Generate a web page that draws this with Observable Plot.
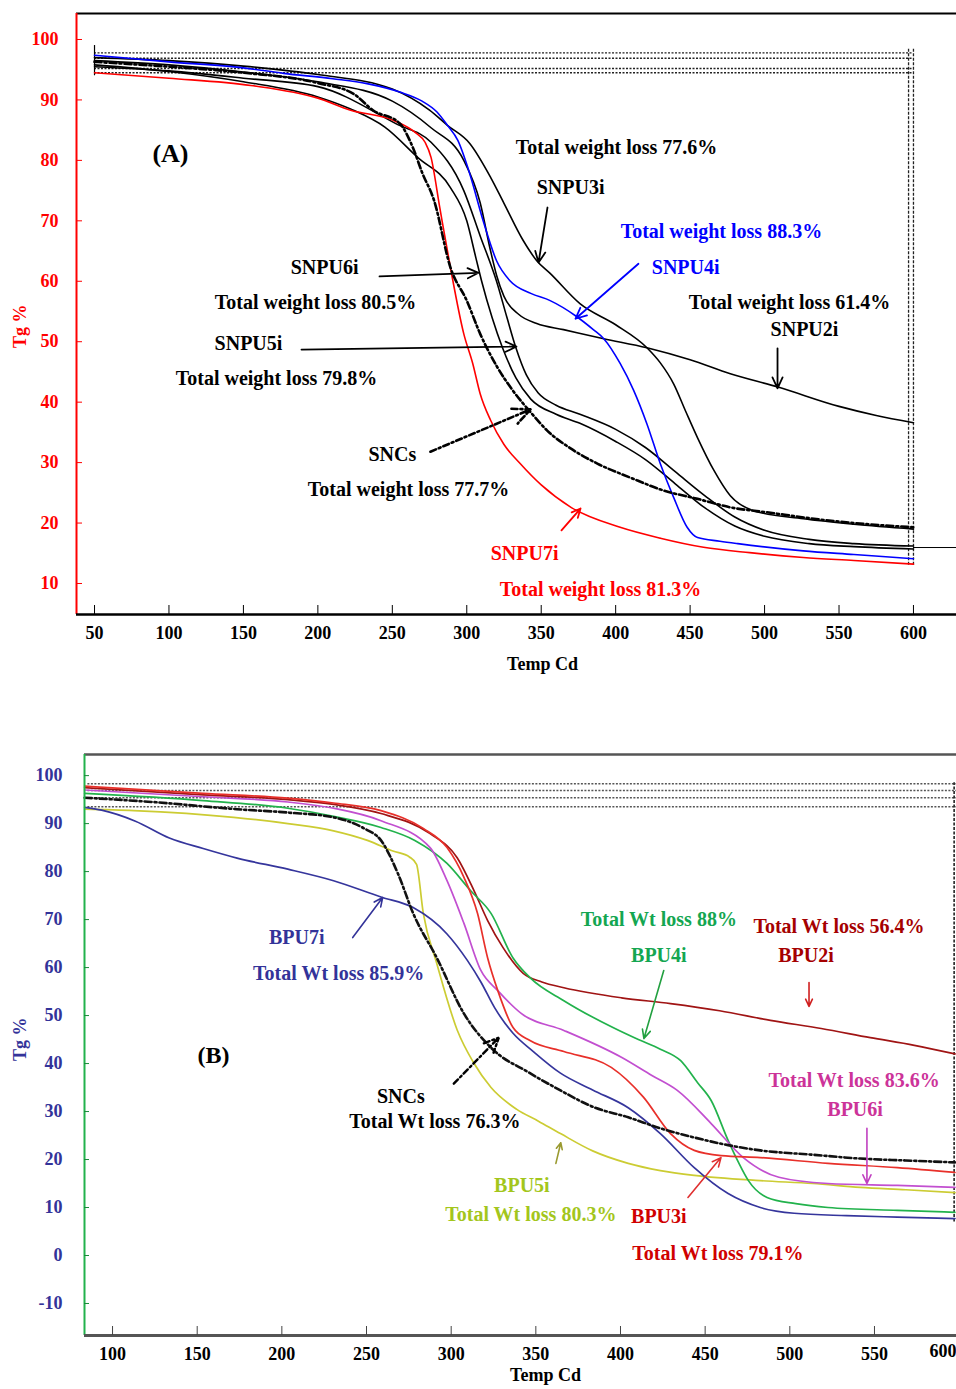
<!DOCTYPE html>
<html><head><meta charset="utf-8">
<script src="https://cdn.jsdelivr.net/npm/d3@7"></script>
<script src="https://cdn.jsdelivr.net/npm/@observablehq/plot@0.6"></script>
<style>
body{margin:0;background:#fff;}
#a,#b{display:block;line-height:0;}
svg{display:block;}
</style></head><body>
<div id="a"></div><div id="b"></div>
<script>
const serif = '"Liberation Serif", "Times New Roman", serif';

// ---------------- Panel (A) data: [temperature °C, weight %] ----------------
const xTicksA = [50,100,150,200,250,300,350,400,450,500,550,600];
const yTicksA = [10,20,30,40,50,60,70,80,90,100];
const SNPU7i = [[50,94.5],[100,93.6],[155,92.4],[200,90.3],[222,88.3],[251,86.6],[266,84.5],[272,83],[276,80.5],[282,72],[289,62.3],[298,51.3],[304,46.4],[309,41.4],[316,37],[325,33],[336,29.8],[350,26.3],[370,22.6],[403,19.3],[430,17.5],[459,16],[490,15.1],[526,14.3],[560,13.8],[600,13.2]];
const SNPU4i = [[50,97.4],[100,96.3],[150,95.3],[177,94.4],[210,93.5],[233,92.7],[255,91.3],[270,89.8],[280,88],[287,85.8],[294,83.3],[302,77.8],[311,70],[320,63.4],[329,60.1],[343,58],[356,56.8],[373,54.3],[385,52],[392,50.5],[403,46.4],[412,42],[421,36.4],[430,29.8],[439,24.2],[448,19.3],[455,17.6],[470,17],[482,16.6],[526,15.4],[560,14.8],[600,14.1]];
const SNPU3i = [[50,97],[100,96.5],[150,95.6],[200,94.2],[250,91.8],[275,88.3],[287,85.8],[302,82.8],[316,77.2],[325,72.9],[338,66.7],[347,63.4],[356,61.3],[376,56.3],[400,52.8],[421,49],[430,46.5],[439,43],[447,38.5],[455,34.1],[466,28.7],[477,24.5],[493,22],[526,20.7],[560,19.8],[600,19]];
const SNPU2i = [[50,96.5],[100,95.8],[150,94.6],[200,93],[250,89.8],[276,85.4],[298,80],[309,73],[316,65],[320,61],[325,57.5],[335,54.5],[347,53],[365,52],[392,50.5],[421,49],[450,47],[477,44.7],[509,42.5],[550,39.3],[575,37.8],[600,36.6]];
const SNPU6i = [[50,95.8],[100,94.7],[150,93],[200,90.5],[222,88.5],[245,85.5],[267,80.5],[289,75.5],[300,70],[306,64],[310,60],[317,54],[324,49],[333,44],[343,40.5],[360,38],[376,36.5],[400,33.5],[420,30.5],[440,26.5],[460,22.5],[480,19.5],[500,17.8],[530,16.6],[560,16.1],[600,15.7]];
const SNPU5i = [[50,95.5],[100,94.8],[150,93.6],[200,92.2],[253,86],[276,83],[298,75],[309,67.5],[320,60],[327,54],[333,49],[340,44.5],[348,41.5],[360,39.5],[376,38],[400,35.5],[420,32.5],[440,28.5],[460,24.5],[480,21],[500,18.8],[530,17.3],[560,16.6],[600,16.2]];
const SNCsA = [[50,96.3],[100,95.5],[150,94.5],[200,92.8],[224,91],[237,88.3],[255,86.1],[264,82],[270,78],[278,73.4],[289,62.3],[300,56.8],[309,51.3],[320,46],[331,41.9],[343,38.3],[354,35.3],[370,32.3],[388,29.8],[410,27.5],[432,25.4],[455,24],[477,22.6],[504,21.7],[530,20.8],[560,20],[600,19.3]];
const refLinesA = [97.8, 96.9, 95.2, 94.5];
const refVertA = [596.7, 600];

const annA = [
  {key:"A", label:"(A)", t:101, w:81.1},
  {key:"SNPU3i", label:"Total weight loss 77.6%", t:400.6, w:82.1},
  {key:"SNPU3i", label:"SNPU3i", t:369.7, w:75.5},
  {key:"SNPU4i", label:"Total weight loss 88.3%", t:471, w:68.2},
  {key:"SNPU4i", label:"SNPU4i", t:447, w:62.3},
  {key:"SNPU2i", label:"Total weight loss 61.4%", t:516.7, w:56.5},
  {key:"SNPU2i", label:"SNPU2i", t:526.8, w:52},
  {key:"SNPU6i", label:"SNPU6i", t:204.5, w:62.3},
  {key:"SNPU6i", label:"Total weight loss 80.5%", t:198.4, w:56.5},
  {key:"SNPU5i", label:"SNPU5i", t:153.4, w:49.7},
  {key:"SNPU5i", label:"Total weight loss 79.8%", t:172.2, w:43.9},
  {key:"SNCs", label:"SNCs", t:250, w:31.3},
  {key:"SNCs", label:"Total weight loss 77.7%", t:260.9, w:25.5},
  {key:"SNPU7i", label:"SNPU7i", t:338.8, w:15},
  {key:"SNPU7i", label:"Total weight loss 81.3%", t:389.8, w:9}
];
const arrowsA = [
  {key:"SNPU3i", t1:354.2, w1:72.2, t2:348.2, w2:63.1},
  {key:"SNPU4i", t1:415.3, w1:62.9, t2:373, w2:53.8},
  {key:"SNPU2i", t1:508.7, w1:48.9, t2:508.7, w2:42.3},
  {key:"SNPU6i", t1:241.4, w1:60.8, t2:307.9, w2:61.4},
  {key:"SNPU5i", t1:189, w1:48.7, t2:333.4, w2:49.2},
  {key:"SNPU7i", t1:363.6, w1:18.8, t2:376.4, w2:22.4}
];
const arrowsDashA = [{key:"SNCs", t1:275.6, w1:31.8, t2:342.8, w2:38.8}];

// ---------------- Panel (B) data ----------------
const xTicksB = [100,150,200,250,300,350,400,450,500,550];
const yTicksB = [-10,0,10,20,30,40,50,60,70,80,90,100];
const BPU7i = [[80,93.4],[90,92.8],[110,90.5],[130,87],[150,84.8],[170,82.8],[200,80.5],[227,78.1],[255,74.7],[274,72.5],[294,67],[306,61.5],[314,57],[322,51.7],[333,46.3],[345,42.5],[361,38],[380,34.5],[401,30.8],[420,25.4],[440,18.3],[460,12.9],[479,10],[499,8.8],[530,8.3],[560,8],[594,7.7]];
const BPU5i = [[80,93],[109,92.7],[168,91.3],[200,90],[227,88.5],[247,86.5],[262,84.3],[272,83],[276,81.5],[280,71.3],[288,60.8],[300,47],[310,40],[320,35],[335,30.5],[348,28],[361,25.4],[380,21.8],[401,19.2],[420,17.7],[440,16.7],[479,15.6],[510,15],[538,14.2],[565,13.7],[594,13.1]];
const SNCsB = [[80,95.4],[120,94.5],[170,93],[200,92.3],[227,91.3],[245,89],[255,86.5],[265,79.6],[274,71.3],[288,62],[304,50.4],[320,43.3],[343,38],[361,34.4],[380,31],[401,28.8],[420,26.5],[440,24.6],[460,23],[479,21.9],[510,21],[538,20.2],[565,19.8],[594,19.4]];
const BPU4i = [[80,96.3],[150,94.8],[200,93.2],[227,91.5],[255,89.2],[275,86.5],[294,81.7],[308,76],[320,71.3],[333,62],[343,57.9],[363,53.1],[392,47.5],[407,45],[420,43],[432,40.6],[442,36],[450,32.3],[460,24],[466,19.5],[472,15.6],[483,12.1],[500,10.8],[519,10],[560,9.4],[594,9]];
const BPU2i = [[80,97.5],[150,96],[200,95],[227,94],[255,92.1],[284,87.9],[300,82.9],[310,76],[318,69.8],[327,64.2],[339,58.8],[350,57],[363,55.8],[397,53.7],[426,52.5],[455,51],[485,49],[515,47.3],[544,45.4],[570,43.8],[594,42]];
const BPU3i = [[80,97.8],[150,96.3],[200,95.3],[227,94.3],[255,92.7],[280,89],[294,85],[304,78.8],[312,71.3],[318,62],[324,55.2],[333,47.5],[343,44.8],[363,42.5],[391,39.2],[410,33],[426,25.4],[440,21.9],[456,20.8],[479,20.4],[519,19.2],[560,18.3],[594,17.3]];
const BPU6i = [[80,97],[150,95.6],[200,94.5],[227,93.2],[255,90.6],[284,85],[294,78.1],[304,69.2],[314,59.4],[324,55.2],[338,50.4],[363,46.9],[397,41.3],[415,37.5],[430,34.4],[450,27.5],[469,20.4],[490,16.3],[519,15],[560,14.6],[594,14.2]];
const refLinesB = [98.3, 96.9, 95.4, 93.5];
const refVertB = [593.5];
const extraXLabelB = [{t:587, label:"600"}];

const annB = [
  {key:"B", label:"(B)", t:156.1, w:41.7},
  {key:"BPU7i", label:"BPU7i", t:205.2, w:66.25},
  {key:"BPU7i", label:"Total Wt loss 85.9%", t:230, w:58.75},
  {key:"BPU4i", label:"Total Wt loss 88%", t:419.1, w:70},
  {key:"BPU4i", label:"BPU4i", t:419.1, w:62.5},
  {key:"BPU2i", label:"Total Wt loss 56.4%", t:525.5, w:68.5},
  {key:"BPU2i", label:"BPU2i", t:506, w:62.5},
  {key:"SNCs", label:"SNCs", t:266.7, w:33.1},
  {key:"SNCs", label:"Total Wt loss 76.3%", t:286.8, w:27.9},
  {key:"BPU6i", label:"Total Wt loss 83.6%", t:534.4, w:36.5},
  {key:"BPU6i", label:"BPU6i", t:535, w:30.4},
  {key:"BPU5i", label:"BPU5i", t:338.2, w:14.6},
  {key:"BPU5i", label:"Total Wt loss 80.3%", t:343.5, w:8.5},
  {key:"BPU3i", label:"BPU3i", t:419.1, w:8.1},
  {key:"BPU3i", label:"Total Wt loss 79.1%", t:454, w:0.4}
];
const arrowsB = [
  {key:"BPU7i", t1:238.3, w1:66.25, t2:256, w2:74.6},
  {key:"BPU4i", t1:422, w1:59.4, t2:410.3, w2:45.2},
  {key:"BPU2i", t1:507.8, w1:56.9, t2:507.8, w2:51.9},
  {key:"BPU6i", t1:542, w1:26.5, t2:542, w2:15},
  {key:"BPU5i", t1:358.3, w1:19.2, t2:361.2, w2:23.5},
  {key:"BPU3i", t1:436.3, w1:12.1, t2:455.8, w2:20.4}
];
const arrowsDashB = [{key:"SNCs", t1:298, w1:35.8, t2:324.6, w2:45.4}];

// ---------------- styles ----------------
const lineColorA = {SNPU7i:"#ff0000", SNPU4i:"#0000ff", SNPU3i:"#000", SNPU2i:"#000", SNPU6i:"#000", SNPU5i:"#000", SNCs:"#000", A:"#000"};
const lineColorB = {BPU7i:"#35359c", BPU5i:"#cccc33", SNCs:"#111", BPU4i:"#22b24c", BPU2i:"#a01414", BPU3i:"#e8302a", BPU6i:"#c24fd0"};
const textColorB = {B:"#000", BPU7i:"#333399", BPU5i:"#a3c61c", BPU4i:"#14a651", BPU2i:"#a50000", BPU3i:"#d00000", BPU6i:"#cc3399", SNCs:"#000"};
const arrowColorB = {BPU7i:"#333399", BPU5i:"#9a9a30", BPU4i:"#22a040", BPU2i:"#d02020", BPU3i:"#e03030", BPU6i:"#c040c0", SNCs:"#000"};

const rowsOf = (name, pts) => pts.map(([t, w]) => ({name, t, w}));
const solidA = [["SNPU2i",SNPU2i],["SNPU3i",SNPU3i],["SNPU5i",SNPU5i],["SNPU6i",SNPU6i],["SNPU4i",SNPU4i],["SNPU7i",SNPU7i]].flatMap(([n,p]) => rowsOf(n,p));
const solidB = [["BPU2i",BPU2i],["BPU5i",BPU5i],["BPU7i",BPU7i],["BPU4i",BPU4i],["BPU6i",BPU6i],["BPU3i",BPU3i]].flatMap(([n,p]) => rowsOf(n,p));

const xDomA = [37.9, 628.9], yDomA = [4.87, 104.3];
const xDomB = [79.9, 594.9], yDomB = [-16.67, 104.4];
const bold = {fontFamily: serif, fontWeight: "bold"};
const plainNum = d => String(d);

const chartA = Plot.plot({
  width: 956, height: 695,
  marginTop: 13, marginBottom: 81, marginLeft: 76, marginRight: 0,
  style: {fontFamily: serif, background: "white", overflow: "visible"},
  x: {domain: xDomA}, y: {domain: yDomA},
  marks: [
    Plot.ruleY(refLinesA, {x1: 50, x2: 600, stroke: "#222", strokeWidth: 1.3, strokeDasharray: "2,1.5"}),
    Plot.ruleX(refVertA, {y1: 13, y2: 98.5, stroke: "#222", strokeWidth: 1.3, strokeDasharray: "3,1.5"}),
    Plot.ruleX([50], {y1: 94, y2: 99, stroke: "#000", strokeWidth: 1.2}),
    Plot.ruleY([15.95], {x1: 600, x2: xDomA[1], stroke: "#000", strokeWidth: 1}),
    Plot.line(solidA, {x: "t", y: "w", z: "name", stroke: d => lineColorA[d.name], strokeWidth: 1.6, curve: "monotone-x"}),
    Plot.line(rowsOf("SNCs", SNCsA), {x: "t", y: "w", stroke: "#000", strokeWidth: 2.6, strokeDasharray: "7,3,2,3", curve: "monotone-x"}),
    Plot.ruleY([yDomA[1]], {stroke: "#000", strokeWidth: 2}),
    Plot.ruleX([xDomA[0]], {stroke: "#ff0000", strokeWidth: 2}),
    Plot.ruleY([yDomA[0]], {stroke: "#000", strokeWidth: 2.5}),
    Plot.axisY({ticks: yTicksA, tickFormat: plainNum, tickSize: -6, tickPadding: 24, stroke: "#ff0000", fill: "#ff0000", fontSize: 18, ...bold, label: null}),
    Plot.axisX({ticks: xTicksA, tickFormat: plainNum, tickSize: -9, tickPadding: 21, stroke: "#000", fill: "#000", fontSize: 18, ...bold, label: null}),
    Plot.text(["Temp Cd"], {frameAnchor: "bottom", dx: 26, dy: 55, fontSize: 18, ...bold, fill: "#000"}),
    Plot.text(["Tg %"], {frameAnchor: "left", rotate: -90, dx: -56, dy: 34, fontSize: 18, ...bold, fill: "#ff0000"}),
    Plot.arrow(arrowsA, {x1: "t1", y1: "w1", x2: "t2", y2: "w2", stroke: d => lineColorA[d.key], strokeWidth: 1.8, headLength: 10, headAngle: 50}),
    Plot.arrow(arrowsDashA, {x1: "t1", y1: "w1", x2: "t2", y2: "w2", stroke: "#000", strokeWidth: 2.6, strokeDasharray: "6,3,2,3", headLength: 11, headAngle: 50}),
    Plot.text(annA, {x: "t", y: "w", text: "label", fill: d => lineColorA[d.key], fontSize: d => d.key === "A" ? 26 : 20, ...bold})
  ]
});
document.getElementById("a").append(chartA);

const chartB = Plot.plot({
  width: 956, height: 694,
  marginTop: 59, marginBottom: 54, marginLeft: 84, marginRight: 0,
  style: {fontFamily: serif, background: "white", overflow: "visible"},
  x: {domain: xDomB}, y: {domain: yDomB},
  marks: [
    Plot.ruleY(refLinesB, {x1: xDomB[0] + 2, x2: xDomB[1], stroke: "#555", strokeWidth: 1.5, strokeDasharray: "2,1.5"}),
    Plot.ruleX(refVertB, {y1: 7, y2: 98.5, stroke: "#222", strokeWidth: 1.6, strokeDasharray: "3,1.5"}),
    Plot.line(solidB, {x: "t", y: "w", z: "name", stroke: d => lineColorB[d.name], strokeWidth: 1.7, curve: "monotone-x"}),
    Plot.line(rowsOf("SNCs", SNCsB), {x: "t", y: "w", stroke: "#111", strokeWidth: 2.6, strokeDasharray: "7,3,2,3", curve: "monotone-x"}),
    Plot.ruleY([yDomB[1]], {stroke: "#555", strokeWidth: 2.5}),
    Plot.ruleX([xDomB[0]], {stroke: "#22b24c", strokeWidth: 2}),
    Plot.ruleY([yDomB[0]], {stroke: "#555", strokeWidth: 3}),
    Plot.axisY({ticks: yTicksB, tickFormat: plainNum, tickSize: -5, tickPadding: 27, stroke: "#1a8a3a", fill: "#333399", fontSize: 18, ...bold, label: null}),
    Plot.axisX({ticks: xTicksB, tickFormat: plainNum, tickSize: -9, tickPadding: 21, dx: -6, stroke: "#444", fill: "#000", fontSize: 18, ...bold, label: null}),
    Plot.text(extraXLabelB, {x: "t", frameAnchor: "bottom", dy: 21, text: "label", fontSize: 18, ...bold, fill: "#000"}),
    Plot.text(["Temp Cd"], {frameAnchor: "bottom", dx: 25, dy: 45, fontSize: 18, ...bold, fill: "#000"}),
    Plot.text(["Tg %"], {frameAnchor: "left", rotate: -90, dx: -64, dy: 16, fontSize: 18, ...bold, fill: "#333399"}),
    Plot.arrow(arrowsB, {x1: "t1", y1: "w1", x2: "t2", y2: "w2", stroke: d => arrowColorB[d.key], strokeWidth: 1.6, headLength: 9, headAngle: 50}),
    Plot.arrow(arrowsDashB, {x1: "t1", y1: "w1", x2: "t2", y2: "w2", stroke: "#000", strokeWidth: 2.4, strokeDasharray: "6,3,2,3", headLength: 10, headAngle: 50}),
    Plot.text(annB, {x: "t", y: "w", text: "label", fill: d => textColorB[d.key], fontSize: d => d.key === "B" ? 24 : 20, ...bold})
  ]
});
document.getElementById("b").append(chartB);
</script>
</body></html>
